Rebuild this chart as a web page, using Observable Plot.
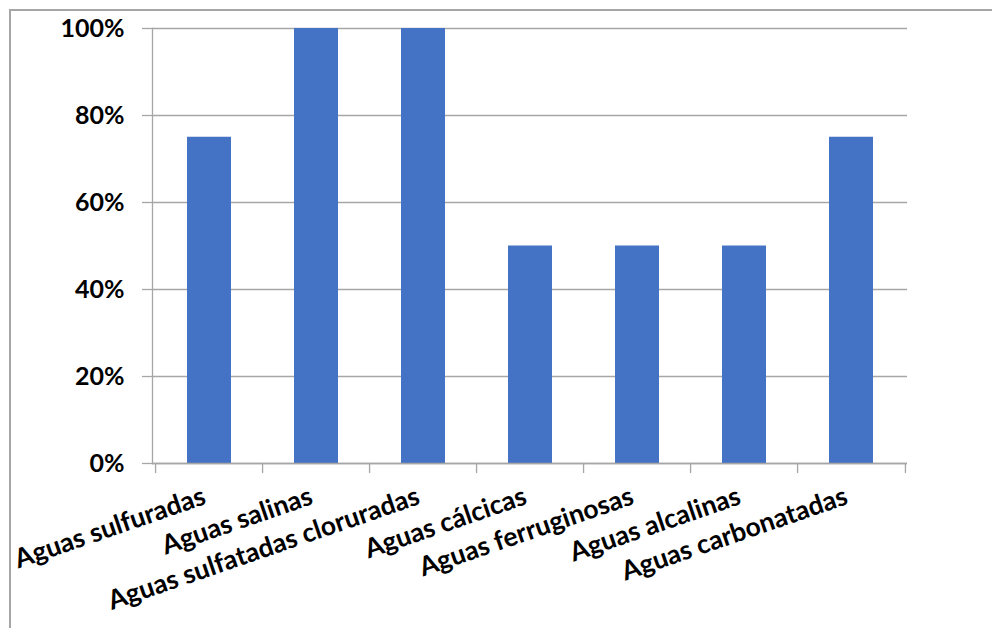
<!DOCTYPE html>
<html>
<head>
<meta charset="utf-8">
<script src="https://cdn.jsdelivr.net/npm/d3@7"></script>
<script src="https://cdn.jsdelivr.net/npm/@observablehq/plot@0.6"></script>
<style>
  html, body { margin: 0; padding: 0; background: #fff; }
  #wrap { position: relative; width: 992px; height: 628px; overflow: hidden; }
  #frame { position: absolute; left: 9px; top: 9px; width: 1200px; height: 900px;
           border-left: 2px solid #a6a6a6; border-top: 2px solid #a6a6a6; }
  #chart { position: absolute; left: 0; top: 0; }
</style>
</head>
<body>
<div id="wrap"><div id="frame"></div><div id="chart"></div></div>
<script>
const categories = [
  "Aguas sulfuradas",
  "Aguas salinas",
  "Aguas sulfatadas cloruradas",
  "Aguas cálcicas",
  "Aguas ferruginosas",
  "Aguas alcalinas",
  "Aguas carbonatadas"
];
const values = [0.75, 1.0, 1.0, 0.5, 0.5, 0.5, 0.75];
const yTicks = [0, 0.2, 0.4, 0.6, 0.8, 1.0];

const data = categories.map((c, i) => ({category: c, value: values[i]}));

const W = 992, H = 628;
const mL = 152, mR = 85, mT = 28, mB = 165;
const step = (W - mL - mR) / categories.length;
const font = "Lato, 'Open Sans', sans-serif";

const plot = Plot.plot({
  width: W,
  height: H,
  marginLeft: mL,
  marginRight: mR,
  marginTop: mT,
  marginBottom: mB,
  style: {fontFamily: font, background: "transparent", overflow: "visible"},
  x: {domain: categories, paddingInner: 0.59, paddingOuter: 0.295, label: null},
  y: {domain: [0, 1], label: null},
  marks: [
    Plot.gridY(yTicks, {stroke: "#a6a6a6", strokeOpacity: 1, strokeWidth: 1.3}),
    Plot.barY(data, {x: "category", y: "value", fill: "#4472C4"}),
    Plot.frame({anchor: "left", stroke: "#a6a6a6", strokeWidth: 1.3}),
    Plot.ruleY([0], {stroke: "#a6a6a6", strokeWidth: 1.3}),
    Plot.axisY(yTicks, {
      tickSize: 10, tickPadding: 18, stroke: "#a6a6a6", strokeWidth: 1.3,
      tickFormat: d => Math.round(d * 100) + "%",
      fontSize: 25, fontWeight: "bold", fill: "#000", label: null
    }),
    Plot.axisX(categories, {tickSize: 10, text: null, dx: -step / 2, stroke: "#a6a6a6", strokeWidth: 1.3, label: null}),
    Plot.axisX([categories[categories.length - 1]], {tickSize: 10, text: null, dx: step / 2, stroke: "#a6a6a6", strokeWidth: 1.3, label: null}),
    Plot.axisX(categories, {
      tickSize: 0, tickPadding: 32, tickRotate: -19, dx: -5,
      fontSize: 26.5, fontWeight: "bold", fill: "#000", label: null
    })
  ]
});
document.getElementById("chart").appendChild(plot);
</script>
</body>
</html>
